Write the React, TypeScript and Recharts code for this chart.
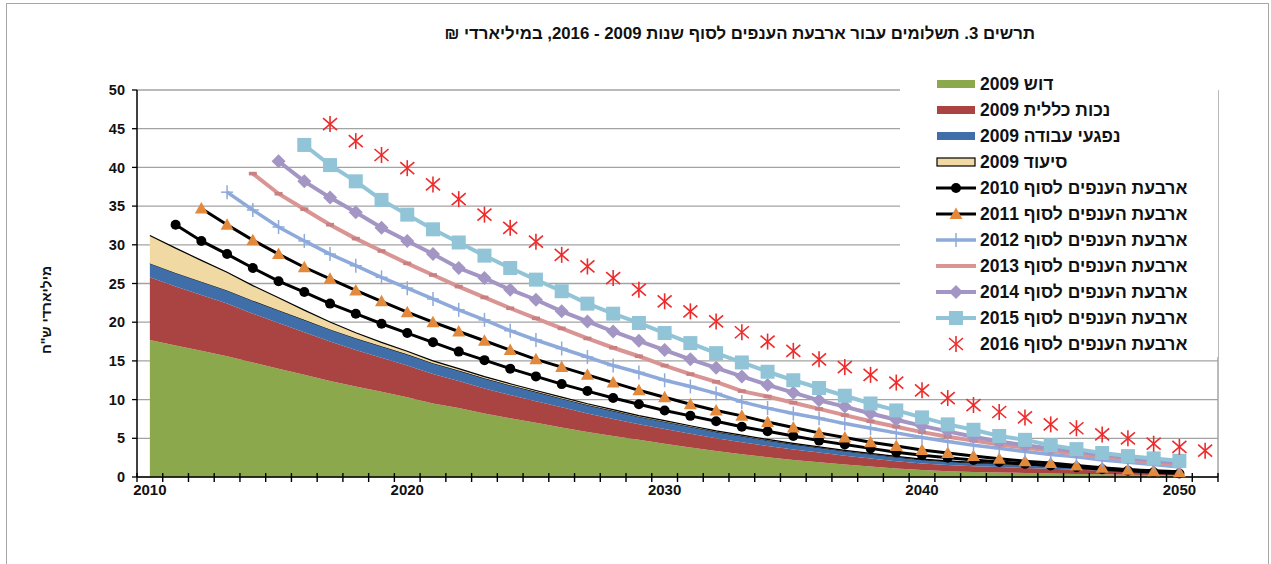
import React from 'react';
import { ComposedChart, Area, Line, XAxis, YAxis, CartesianGrid, ReferenceLine } from 'recharts';

// ---------- data ----------
const YEARS = [2010, 2011, 2012, 2013, 2014, 2015, 2016, 2017, 2018, 2019, 2020, 2021, 2022, 2023, 2024, 2025, 2026, 2027, 2028, 2029, 2030, 2031, 2032, 2033, 2034, 2035, 2036, 2037, 2038, 2039, 2040, 2041, 2042, 2043, 2044, 2045, 2046, 2047, 2048, 2049, 2050, 2051];
const X_LABELS = [2010, 2020, 2030, 2040, 2050];
const Y_TICKS = [0, 5, 10, 15, 20, 25, 30, 35, 40, 45, 50];

// stacked areas, 2010..2050
const DOSH_2009 = [17.7, 17.0, 16.3, 15.6, 14.8, 14.0, 13.2, 12.4, 11.7, 11.0, 10.3, 9.5, 8.9, 8.2, 7.6, 7.0, 6.4, 5.8, 5.3, 4.8, 4.3, 3.8, 3.35, 2.95, 2.55, 2.2, 1.9, 1.6, 1.35, 1.1, 0.9, 0.75, 0.65, 0.58, 0.52, 0.46, 0.4, 0.35, 0.3, 0.25, 0.2];
const NECHUT_2009 = [8.1, 7.6, 7.2, 6.8, 6.3, 5.9, 5.5, 5.1, 4.7, 4.4, 4.1, 3.8, 3.5, 3.25, 3.0, 2.8, 2.6, 2.4, 2.2, 2.0, 1.9, 1.8, 1.65, 1.55, 1.45, 1.35, 1.25, 1.15, 1.05, 0.95, 0.85, 0.8, 0.75, 0.7, 0.65, 0.6, 0.55, 0.5, 0.45, 0.4, 0.35];
const AVODA_2009 = [1.8, 1.77, 1.74, 1.71, 1.68, 1.65, 1.61, 1.57, 1.53, 1.49, 1.45, 1.4, 1.35, 1.3, 1.25, 1.2, 1.15, 1.1, 1.05, 1.0, 0.95, 0.9, 0.85, 0.8, 0.75, 0.7, 0.66, 0.62, 0.58, 0.54, 0.5, 0.47, 0.44, 0.41, 0.38, 0.35, 0.32, 0.29, 0.26, 0.23, 0.2];
const SIUD_2009 = [3.6, 3.2, 2.75, 2.35, 1.95, 1.6, 1.25, 0.95, 0.7, 0.5, 0.4, 0.3, 0.25, 0.22, 0.2, 0.18, 0.17, 0.16, 0.15, 0.14, 0.13, 0.12, 0.11, 0.1, 0.1, 0.09, 0.09, 0.08, 0.08, 0.07, 0.07, 0.06, 0.06, 0.06, 0.05, 0.05, 0.05, 0.04, 0.04, 0.04, 0.04];

// lines (each array begins at its start year)
const L2010_START = 2011;
const L2010 = [32.6, 30.5, 28.8, 27.0, 25.3, 23.9, 22.4, 21.1, 19.8, 18.6, 17.4, 16.2, 15.1, 14.0, 13.0, 12.0, 11.1, 10.2, 9.4, 8.6, 7.9, 7.2, 6.5, 5.9, 5.3, 4.7, 4.2, 3.7, 3.2, 2.8, 2.5, 2.2, 1.95, 1.7, 1.5, 1.25, 1.0, 0.8, 0.6, 0.45];
const L2011_START = 2012;
const L2011 = [34.7, 32.6, 30.6, 28.8, 27.1, 25.6, 24.1, 22.7, 21.3, 20.0, 18.8, 17.6, 16.4, 15.2, 14.2, 13.2, 12.2, 11.2, 10.3, 9.4, 8.6, 7.9, 7.1, 6.4, 5.7, 5.1, 4.5, 4.0, 3.5, 3.1, 2.7, 2.35, 2.05, 1.8, 1.5, 1.2, 0.95, 0.75, 0.6];
const L2012_START = 2013;
const L2012 = [36.8, 34.5, 32.3, 30.5, 28.8, 27.3, 25.8, 24.4, 23.0, 21.6, 20.3, 18.9, 17.7, 16.6, 15.5, 14.4, 13.5, 12.5, 11.7, 10.8, 9.7, 8.9, 8.2, 7.6, 6.9, 6.3, 5.7, 5.1, 4.6, 4.1, 3.7, 3.3, 2.9, 2.6, 2.2, 1.9, 1.6, 1.3];
const L2013_START = 2014;
const L2013 = [39.2, 36.6, 34.6, 32.6, 30.8, 29.2, 27.6, 26.1, 24.6, 23.2, 21.8, 20.5, 19.2, 17.9, 16.7, 15.6, 14.4, 13.3, 12.3, 11.1, 10.4, 9.6, 8.8, 8.0, 7.2, 6.5, 5.8, 5.2, 4.7, 4.2, 3.8, 3.4, 3.0, 2.6, 2.25, 1.9, 1.6];
const L2014_START = 2015;
const L2014 = [40.8, 38.2, 36.1, 34.2, 32.2, 30.5, 28.8, 27.0, 25.7, 24.2, 22.9, 21.4, 20.1, 18.8, 17.6, 16.4, 15.2, 14.1, 13.0, 11.9, 10.9, 9.9, 9.1, 8.2, 7.4, 6.6, 5.9, 5.2, 4.6, 4.1, 3.7, 3.3, 2.9, 2.5, 2.1, 1.8];
const L2015_START = 2016;
const L2015 = [42.9, 40.3, 38.2, 35.8, 33.9, 32.0, 30.3, 28.6, 27.0, 25.5, 24.0, 22.4, 21.1, 19.9, 18.6, 17.3, 16.0, 14.8, 13.6, 12.5, 11.5, 10.5, 9.5, 8.6, 7.7, 6.8, 6.1, 5.3, 4.8, 4.1, 3.6, 3.1, 2.7, 2.4, 2.1];
const L2016_START = 2017;
const L2016 = [45.6, 43.4, 41.6, 39.9, 37.8, 35.9, 33.9, 32.2, 30.4, 28.7, 27.2, 25.7, 24.2, 22.7, 21.4, 20.1, 18.7, 17.5, 16.3, 15.2, 14.2, 13.2, 12.2, 11.2, 10.2, 9.3, 8.4, 7.7, 6.8, 6.3, 5.5, 5.0, 4.3, 3.9, 3.4];

const TITLE = 'תרשים 3. תשלומים עבור ארבעת הענפים לסוף שנות 2009 - 2016, במיליארדי ₪';
const Y_LABEL = 'מיליארדי ש"ח';
const LEGEND_NAMES = [
  'דוש 2009',
  'נכות כללית 2009',
  'נפגעי עבודה 2009',
  'סיעוד 2009',
  'ארבעת הענפים לסוף 2010',
  'ארבעת הענפים לסוף 2011',
  'ארבעת הענפים לסוף 2012',
  'ארבעת הענפים לסוף 2013',
  'ארבעת הענפים לסוף 2014',
  'ארבעת הענפים לסוף 2015',
  'ארבעת הענפים לסוף 2016',
];

// ---------- styling ----------
const FONT = '"Liberation Sans", Arial, sans-serif';
const C = {
  green: '#8ba84c',
  red: '#a94443',
  blue: '#3f6ea8',
  tan: '#f1d9a3',
  black: '#000000',
  orange: '#e3893c',
  lblue: '#8eaadb',
  pink: '#d99594',
  pinkMark: '#c98080',
  purple: '#a395c4',
  teal: '#92c4d7',
  star: '#ee2a2a',
  grid: '#a3a3a3',
};

const pick = (arr: number[], start: number, year: number) => {
  const i = year - start;
  return i >= 0 && i < arr.length ? arr[i] : null;
};

const rows = YEARS.map((year) => ({
  year,
  dosh: pick(DOSH_2009, 2010, year),
  nechut: pick(NECHUT_2009, 2010, year),
  avoda: pick(AVODA_2009, 2010, year),
  siud: pick(SIUD_2009, 2010, year),
  l2010: pick(L2010, L2010_START, year),
  l2011: pick(L2011, L2011_START, year),
  l2012: pick(L2012, L2012_START, year),
  l2013: pick(L2013, L2013_START, year),
  l2014: pick(L2014, L2014_START, year),
  l2015: pick(L2015, L2015_START, year),
  l2016: pick(L2016, L2016_START, year),
}));

const HALF_TICKS = [YEARS[0] - 0.5, ...YEARS.map((y) => y + 0.5)];
const X_TICKS = [...HALF_TICKS, ...X_LABELS].sort((a, b) => a - b);

// ---------- markers ----------
type MP = { cx: number; cy: number };
const mCircle = ({ cx, cy }: MP, k?: any) => <circle key={k} cx={cx} cy={cy} r={5} fill={C.black} />;
const mTriangle = ({ cx, cy }: MP, k?: any) => (
  <polygon key={k} points={`${cx},${cy - 6.5} ${cx - 6.5},${cy + 5} ${cx + 6.5},${cy + 5}`} fill={C.orange} />
);
const mPlus = ({ cx, cy }: MP, k?: any) => (
  <g key={k} stroke={C.lblue} strokeWidth={1.5}>
    <line x1={cx} y1={cy - 7} x2={cx} y2={cy + 7} />
    <line x1={cx - 6} y1={cy} x2={cx + 6} y2={cy} />
  </g>
);
const mDash = ({ cx, cy }: MP, k?: any) => <rect key={k} x={cx - 4} y={cy - 1.8} width={8} height={3.6} fill={C.pinkMark} />;
const mDiamond = ({ cx, cy }: MP, k?: any) => (
  <polygon key={k} points={`${cx},${cy - 7} ${cx + 7},${cy} ${cx},${cy + 7} ${cx - 7},${cy}`} fill={C.purple} />
);
const mSquare = ({ cx, cy }: MP, k?: any) => <rect key={k} x={cx - 7} y={cy - 7} width={14} height={14} fill={C.teal} />;
const mStar = ({ cx, cy }: MP, k?: any) => (
  <g key={k} stroke={C.star} strokeWidth={1.6}>
    <line x1={cx} y1={cy - 8} x2={cx} y2={cy + 8} />
    <line x1={cx - 7} y1={cy - 6} x2={cx + 7} y2={cy + 6} />
    <line x1={cx - 7} y1={cy + 6} x2={cx + 7} y2={cy - 6} />
  </g>
);

const dotOf = (fn: (p: MP, k?: any) => React.ReactElement) => (props: any) => {
  const k = `d-${props.index}`;
  if (props.cx == null || props.cy == null || props.value == null || Number.isNaN(props.cy)) return <g key={k} />;
  return fn({ cx: props.cx, cy: props.cy }, k);
};

const XTick = (props: any) => {
  const { x, y, payload } = props;
  const v = payload.value as number;
  if (Number.isInteger(v)) {
    return (
      <text x={x} y={y + 18} textAnchor="middle" fontSize={15} fontWeight="bold" fill="#111" fontFamily={FONT}>
        {v}
      </text>
    );
  }
  return <line x1={x} y1={y - 4} x2={x} y2={y + 5} stroke="#000" strokeWidth={1.4} />;
};

// ---------- legend ----------
type LegendSym = (w: number, h: number) => React.ReactNode;
const bar = (fill: string, stroke?: string): LegendSym => (w, h) => (
  <rect x={1} y={h / 2 - 4} width={w - 2} height={8} fill={fill} stroke={stroke || 'none'} strokeWidth={stroke ? 1.2 : 0} />
);
const lineSym = (color: string, width: number, marker?: (p: MP) => React.ReactElement): LegendSym => (w, h) => (
  <g>
    <line x1={0} y1={h / 2} x2={w} y2={h / 2} stroke={color} strokeWidth={width} />
    {marker ? marker({ cx: w / 2, cy: h / 2 }) : null}
  </g>
);
const LEGEND_SYMS: LegendSym[] = [
  bar(C.green),
  bar(C.red),
  bar(C.blue),
  bar(C.tan, '#000'),
  lineSym(C.black, 3, mCircle),
  lineSym(C.black, 3, mTriangle),
  lineSym(C.lblue, 3.5, mPlus),
  lineSym(C.pink, 4),
  lineSym(C.purple, 4, mDiamond),
  lineSym(C.teal, 4, mSquare),
  (w, h) => mStar({ cx: w / 2, cy: h / 2 }),
];

export default function App() {
  return (
    <div style={{ position: 'absolute', left: 0, top: 0, width: 1271, height: 564, overflow: 'hidden', background: '#fff', fontFamily: FONT }}>
      <div style={{ position: 'absolute', left: 6, top: 3, width: 1263, height: 600, border: '1.5px solid #a6a6a6', boxSizing: 'border-box' }} />
      <div
        style={{ position: 'absolute', left: 135, top: 24, width: 900, direction: 'rtl', textAlign: 'right', fontSize: 16.8, fontWeight: 'bold', color: '#111', whiteSpace: 'nowrap' }}
      >
        {TITLE}
      </div>
      <div
        style={{ position: 'absolute', left: 46, top: 310, transform: 'translate(-50%, -50%) rotate(-90deg)', direction: 'rtl', fontSize: 14, fontWeight: 'bold', color: '#111', whiteSpace: 'nowrap' }}
      >
        {Y_LABEL}
      </div>
      <div style={{ position: 'absolute', left: 0, top: 0 }}>
        <ComposedChart width={1271} height={564} data={rows} margin={{ top: 90, right: 53, bottom: 57, left: 97 }}>
          <CartesianGrid vertical={false} stroke={C.grid} strokeWidth={1.3} />
          <XAxis
            dataKey="year"
            type="number"
            domain={[2009.5, 2051.5]}
            ticks={X_TICKS}
            interval={0}
            allowDataOverflow
            height={30}
            tickSize={0}
            tickMargin={0}
            tickLine={false}
            axisLine={{ stroke: '#000', strokeWidth: 1.5 }}
            tick={<XTick />}
          />
          <YAxis
            type="number"
            domain={[0, 50]}
            ticks={Y_TICKS}
            interval={0}
            width={40}
            tickSize={5}
            tickMargin={7}
            axisLine={{ stroke: '#000', strokeWidth: 1.5 }}
            tickLine={{ stroke: '#000', strokeWidth: 1.3 }}
            tick={{ fill: '#111', fontSize: 14.5, fontWeight: 'bold', fontFamily: FONT }}
          />
          <ReferenceLine x={2051.5} stroke={C.grid} strokeWidth={1.5} />
          <Area type="linear" dataKey="dosh" stackId="s" fill={C.green} fillOpacity={1} stroke="none" isAnimationActive={false} dot={false} activeDot={false} />
          <Area type="linear" dataKey="nechut" stackId="s" fill={C.red} fillOpacity={1} stroke="none" isAnimationActive={false} dot={false} activeDot={false} />
          <Area type="linear" dataKey="avoda" stackId="s" fill={C.blue} fillOpacity={1} stroke="#000" strokeWidth={1} isAnimationActive={false} dot={false} activeDot={false} />
          <Area type="linear" dataKey="siud" stackId="s" fill={C.tan} fillOpacity={1} stroke="#000" strokeWidth={1.2} isAnimationActive={false} dot={false} activeDot={false} />
          <Line type="linear" dataKey="l2010" stroke={C.black} strokeWidth={3} dot={dotOf(mCircle)} activeDot={false} isAnimationActive={false} />
          <Line type="linear" dataKey="l2011" stroke={C.black} strokeWidth={3} dot={dotOf(mTriangle)} activeDot={false} isAnimationActive={false} />
          <Line type="linear" dataKey="l2012" stroke={C.lblue} strokeWidth={3.5} dot={dotOf(mPlus)} activeDot={false} isAnimationActive={false} />
          <Line type="linear" dataKey="l2013" stroke={C.pink} strokeWidth={4} dot={dotOf(mDash)} activeDot={false} isAnimationActive={false} />
          <Line type="linear" dataKey="l2014" stroke={C.purple} strokeWidth={4} dot={dotOf(mDiamond)} activeDot={false} isAnimationActive={false} />
          <Line type="linear" dataKey="l2015" stroke={C.teal} strokeWidth={4} dot={dotOf(mSquare)} activeDot={false} isAnimationActive={false} />
          <Line type="linear" dataKey="l2016" stroke="none" dot={dotOf(mStar)} activeDot={false} isAnimationActive={false} />
        </ComposedChart>
      </div>
      <div style={{ position: 'absolute', left: 900, top: 60, width: 318, height: 297, background: '#fff' }}>
        {LEGEND_NAMES.map((name, i) => (
          <div key={name} style={{ position: 'absolute', left: 0, top: 11 + i * 26, height: 26, width: 318 }}>
            <svg width={40} height={16} style={{ position: 'absolute', left: 36, top: 5 }}>
              {LEGEND_SYMS[i](40, 16)}
            </svg>
            <div style={{ position: 'absolute', left: 80, top: 2, direction: 'rtl', fontSize: 17.5, fontWeight: 'bold', color: '#111', whiteSpace: 'nowrap', lineHeight: '22px' }}>
              {name}
            </div>
          </div>
        ))}
      </div>
    </div>
  );
}
